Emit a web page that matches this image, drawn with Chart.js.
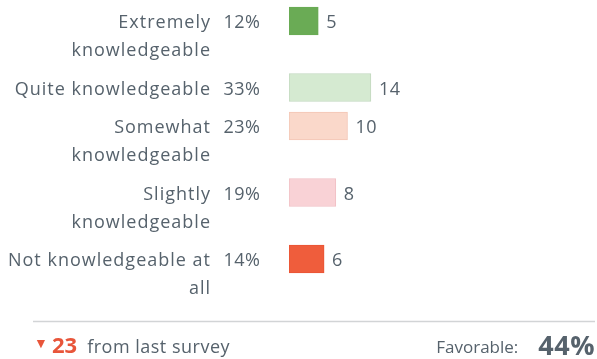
<!DOCTYPE html>
<html>
<head>
<meta charset="utf-8">
<script src="https://cdn.jsdelivr.net/npm/chart.js@4/dist/chart.umd.min.js"></script>
<style>
  html, body { margin: 0; padding: 0; background: #fff; }
  #wrap { position: relative; width: 597px; height: 359px; }
</style>
</head>
<body>
<div id="wrap"><canvas id="chart"></canvas></div>
<script>
// Answer options (each entry is one label, split into its display lines)
const categories = [
  ["Extremely", "knowledgeable"],
  ["Quite knowledgeable"],
  ["Somewhat", "knowledgeable"],
  ["Slightly", "knowledgeable"],
  ["Not knowledgeable at", "all"]
];
// Number of responses per option
const counts = [5, 14, 10, 8, 6];
// Change in favorable score since the last survey
const changeFromLast = -23;
// Options counted as favorable
const favorableOptions = [0, 1];

const barColors    = ["#6aab55", "#d5ead1", "#fad8ca", "#f9d2d6", "#ef5d3c"];
const borderColors = ["#6aab55", "#c2d8bf", "#f3c6b5", "#f1c0c5", "#ea5434"];

const TEXT = "#56626c";
const FONT = "'Open Sans', sans-serif";
const LINE = 28;          // pixels per text line
const ROW_GAP = 0.375;    // extra space between rows, in lines

const total = counts.reduce((a, b) => a + b, 0);
const percents = counts.map(c => Math.round(c / total * 100));
const favorable = Math.round(favorableOptions.reduce((s, i) => s + counts[i], 0) / total * 100);

// Each row starts where the previous row's text ends
const rowPos = [];
categories.reduce((pos, lines) => { rowPos.push(pos); return pos + lines.length + ROW_GAP; }, 0);

function setFont(ctx, spec, spacing) {
  ctx.font = spec;
  ctx.letterSpacing = spacing + 'px';
}

const labelsPlugin = {
  id: 'rowLabels',
  afterDatasetsDraw(chart) {
    const ctx = chart.ctx;
    const meta = chart.getDatasetMeta(0);
    ctx.save();
    ctx.fillStyle = TEXT;
    ctx.textBaseline = 'middle';
    meta.data.forEach((bar, i) => {
      ctx.textAlign = 'right';
      setFont(ctx, `18px ${FONT}`, 1);
      categories[i].forEach((line, k) => ctx.fillText(line, 211, bar.y + 2 + k * LINE));
      setFont(ctx, `18px ${FONT}`, 0.5);
      ctx.fillText(percents[i] + '%', 260.5, bar.y + 2);
      ctx.textAlign = 'left';
      ctx.fillText(String(counts[i]), bar.x + 8, bar.y + 2);
    });

    // footer
    ctx.strokeStyle = '#d2d4d6';
    ctx.lineWidth = 1.5;
    ctx.beginPath();
    ctx.moveTo(33, 321.5);
    ctx.lineTo(595, 321.5);
    ctx.stroke();

    const fy = 348;
    ctx.textAlign = 'left';
    ctx.fillStyle = '#e8553a';
    setFont(ctx, `14px ${FONT}`, 0);
    ctx.fillText(changeFromLast < 0 ? '\u25BC' : '\u25B2', 34, fy - 4);
    setFont(ctx, `bold 22px ${FONT}`, 0);
    const num = String(Math.abs(changeFromLast));
    ctx.fillText(num, 52, fy - 1);
    const nw = ctx.measureText(num).width;
    ctx.fillStyle = TEXT;
    setFont(ctx, `18px ${FONT}`, 0.5);
    ctx.fillText('from last survey', 52 + nw + 10, fy);

    ctx.textAlign = 'right';
    setFont(ctx, `bold 27px ${FONT}`, 0.5);
    const fav = favorable + '%';
    ctx.fillText(fav, 595, fy - 1);
    const fw = ctx.measureText(fav).width;
    setFont(ctx, `17px ${FONT}`, 0);
    ctx.fillText('Favorable:', 595 - fw - 20, fy);
    ctx.restore();
  }
};

new Chart(document.getElementById('chart'), {
  type: 'bar',
  data: {
    datasets: [{
      data: counts.map((c, i) => ({ x: c, y: rowPos[i] })),
      backgroundColor: barColors,
      borderColor: borderColors,
      borderWidth: 1,
      borderSkipped: false,
      barThickness: 28
    }]
  },
  options: {
    indexAxis: 'y',
    responsive: true,
    maintainAspectRatio: false,
    animation: false,
    devicePixelRatio: 1,
    layout: { padding: { left: 289, right: 191, top: 0, bottom: 58 } },
    scales: {
      x: { type: 'linear', min: 0, max: 20, display: false, grace: 0 },
      y: { type: 'linear', min: -0.75, max: 10, reverse: true, display: false, offset: false, grace: 0 }
    },
    plugins: { legend: { display: false }, tooltip: { enabled: false } }
  },
  plugins: [labelsPlugin]
});
</script>
</body>
</html>
